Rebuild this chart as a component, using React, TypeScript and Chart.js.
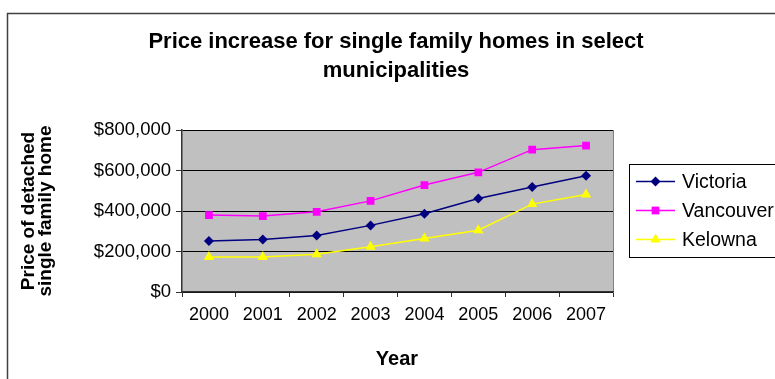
import React, { useEffect, useRef } from "react";
import { Chart, registerables } from "chart.js";

Chart.register(...registerables);

const years = ["2000", "2001", "2002", "2003", "2004", "2005", "2006", "2007"];
const victoria = [252000, 259000, 279000, 329000, 386000, 462000, 518000, 574000];
const vancouver = [380000, 375000, 396000, 450000, 528000, 591000, 703000, 723000];
const kelowna = [173000, 173000, 187000, 223000, 264000, 305000, 434000, 482000];
const seriesNames = ["Victoria", "Vancouver", "Kelowna"];
const seriesColors = ["#000080", "#FF00FF", "#FFFF00"];
const seriesStyles = ["rectRot", "rect", "triangle"];
const seriesRadius = [5, 5.5, 6];
const titleLines = ["Price increase for single family homes in select", "municipalities"];
const yTitleLines = ["Price of detached", "single family home"];
const xTitle = "Year";

const FONT = "'Liberation Sans', Arial, sans-serif";

function drawMarker(ctx: CanvasRenderingContext2D, style: string, x: number, y: number, r: number) {
  ctx.beginPath();
  if (style === "rect") {
    const s = Math.SQRT1_2 * r;
    ctx.rect(x - s, y - s, 2 * s, 2 * s);
  } else if (style === "rectRot") {
    ctx.moveTo(x, y - r);
    ctx.lineTo(x + r, y);
    ctx.lineTo(x, y + r);
    ctx.lineTo(x - r, y);
    ctx.closePath();
  } else {
    const a = (2 * Math.PI) / 3;
    ctx.moveTo(x, y - r);
    ctx.lineTo(x + Math.sin(a) * r, y - Math.cos(a) * r);
    ctx.lineTo(x + Math.sin(2 * a) * r, y - Math.cos(2 * a) * r);
    ctx.closePath();
  }
  ctx.fill();
}

const decorPlugin = {
  id: "decor",
  beforeDraw(chart: any) {
    const { ctx, chartArea } = chart;
    ctx.save();
    ctx.fillStyle = "#ffffff";
    ctx.fillRect(0, 0, chart.width, chart.height);
    ctx.fillStyle = "#C0C0C0";
    ctx.fillRect(chartArea.left, chartArea.top, chartArea.right - chartArea.left, chartArea.bottom - chartArea.top);
    ctx.strokeStyle = "#808080";
    ctx.lineWidth = 1;
    ctx.beginPath();
    ctx.moveTo(Math.round(chartArea.right) + 0.5, chartArea.top);
    ctx.lineTo(Math.round(chartArea.right) + 0.5, chartArea.bottom);
    ctx.stroke();
    ctx.restore();
  },
  afterDraw(chart: any) {
    const { ctx } = chart;
    ctx.save();
    // outer frame
    ctx.strokeStyle = "#404040";
    ctx.lineWidth = 1.5;
    ctx.strokeRect(7.5, 13.5, 900, 500);

    // title
    ctx.fillStyle = "#000";
    ctx.textAlign = "center";
    ctx.textBaseline = "alphabetic";
    ctx.font = `bold 22px ${FONT}`;
    ctx.fillText(titleLines[0], 396, 48);
    ctx.fillText(titleLines[1], 396, 77);

    // x title
    ctx.font = `bold 20px ${FONT}`;
    ctx.fillText(xTitle, 397, 365);

    // y title
    ctx.save();
    ctx.translate(0, 211);
    ctx.rotate(-Math.PI / 2);
    ctx.font = `bold 19px ${FONT}`;
    ctx.fillText(yTitleLines[0], 0, 33.5);
    ctx.fillText(yTitleLines[1], 0, 51);
    ctx.restore();

    // legend
    ctx.strokeStyle = "#000";
    ctx.lineWidth = 1;
    ctx.strokeRect(629.5, 164.5, 300, 93);
    const rows = [181.5, 210.5, 239.5];
    ctx.font = `19.5px ${FONT}`;
    ctx.textAlign = "left";
    ctx.textBaseline = "middle";
    for (let i = 0; i < seriesNames.length; i++) {
      const y = rows[i];
      ctx.strokeStyle = seriesColors[i];
      ctx.lineWidth = 1.5;
      ctx.beginPath();
      ctx.moveTo(636, y);
      ctx.lineTo(675, y);
      ctx.stroke();
      ctx.fillStyle = seriesColors[i];
      drawMarker(ctx, seriesStyles[i], 655.5, y, seriesRadius[i]);
      ctx.fillStyle = "#000";
      ctx.fillText(seriesNames[i], 682, y + 1);
    }
    ctx.restore();
  },
};

export default function App() {
  const ref = useRef<HTMLCanvasElement | null>(null);
  useEffect(() => {
    if (!ref.current) return;
    const data = [victoria, vancouver, kelowna];
    const chart = new Chart(ref.current, {
      type: "line",
      data: {
        labels: years,
        datasets: seriesNames.map((name, i) => ({
          label: name,
          data: data[i],
          borderColor: seriesColors[i],
          backgroundColor: seriesColors[i],
          pointBackgroundColor: seriesColors[i],
          pointBorderColor: seriesColors[i],
          pointBorderWidth: 0,
          pointStyle: seriesStyles[i] as any,
          pointRadius: seriesRadius[i],
          borderWidth: 1.5,
          tension: 0,
          fill: false,
        })),
      },
      options: {
        animation: false,
        responsive: false,
        maintainAspectRatio: false,
        devicePixelRatio: 1,
        layout: { padding: { left: 0, top: 130, right: 162, bottom: 0 } },
        plugins: {
          legend: { display: false },
          title: { display: false },
          tooltip: { enabled: false },
        },
        scales: {
          x: {
            type: "category",
            offset: true,
            grid: {
              display: true,
              offset: true,
              drawOnChartArea: false,
              drawTicks: true,
              tickLength: 5,
              tickColor: "#333333",
              color: "#333333",
            },
            border: { display: true, color: "#333333", width: 1.5 },
            ticks: {
              color: "#000",
              font: { family: FONT, size: 18 },
              padding: 7,
              maxRotation: 0,
              autoSkip: false,
            },
            afterFit(scale: any) {
              scale.height = 87;
            },
          },
          y: {
            min: 0,
            max: 800000,
            grid: {
              color: "#000000",
              lineWidth: 1,
              drawTicks: true,
              tickLength: 6,
              tickColor: "#333333",
            },
            border: { display: true, color: "#333333", width: 1.5 },
            ticks: {
              stepSize: 200000,
              color: "#000",
              font: { family: FONT, size: 18.5 },
              padding: 5,
              callback: (v: any) => "$" + Number(v).toLocaleString("en-US"),
            },
            afterFit(scale: any) {
              scale.width = 182;
            },
          },
        },
      },
      plugins: [decorPlugin],
    });
    return () => chart.destroy();
  }, []);
  return (
    <div style={{ position: "absolute", left: 0, top: 0, width: 775, height: 379 }}>
      <canvas ref={ref} width={775} height={379} style={{ width: 775, height: 379, display: "block" }} />
    </div>
  );
}
